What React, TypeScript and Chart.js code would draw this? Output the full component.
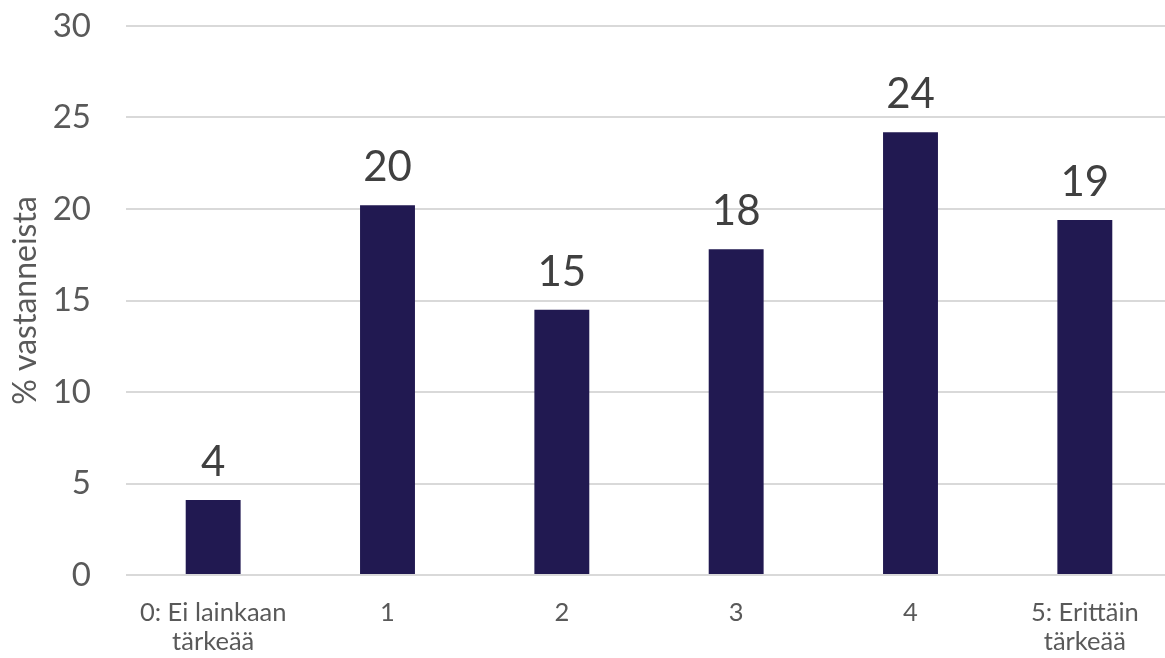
import React, { useEffect, useRef } from "react";
import { Chart, registerables } from "chart.js";

Chart.register(...registerables);

const categories: (string | string[])[] = [
  ["0: Ei lainkaan", "tärkeää"],
  "1",
  "2",
  "3",
  "4",
  ["5: Erittäin", "tärkeää"],
];
const values: number[] = [4.1, 20.2, 14.5, 17.8, 24.2, 19.4];
const yTicks: number[] = [0, 5, 10, 15, 20, 25, 30];
const yTitle = "% vastanneista";

const FONT = "Lato, 'Open Sans', sans-serif";

const dataLabelPlugin = {
  id: "dataLabels",
  afterDatasetsDraw(chart: any) {
    const ctx = chart.ctx;
    const meta = chart.getDatasetMeta(0);
    ctx.save();
    ctx.font = `42px ${FONT}`;
    ctx.fillStyle = "#404040";
    ctx.textAlign = "center";
    ctx.textBaseline = "alphabetic";
    meta.data.forEach((el: any, i: number) => {
      const v = chart.data.datasets[0].data[i] as number;
      ctx.fillText(String(Math.round(v)), el.x, el.y - 24);
    });
    ctx.restore();
  },
};

export default function App() {
  const ref = useRef<HTMLCanvasElement | null>(null);
  useEffect(() => {
    if (!ref.current) return;
    const chart = new Chart(ref.current, {
      type: "bar",
      data: {
        labels: categories,
        datasets: [
          {
            data: values,
            backgroundColor: "#211951",
            barPercentage: 0.315,
            categoryPercentage: 1,
          },
        ],
      },
      options: {
        animation: false,
        responsive: false,
        devicePixelRatio: 1,
        layout: { padding: { top: 0, right: 0, left: 0, bottom: 0 } },
        plugins: {
          legend: { display: false },
          tooltip: { enabled: false },
        },
        scales: {
          x: {
            grid: { display: false, drawTicks: false },
            border: { display: false },
            ticks: {
              color: "#595959",
              font: { family: FONT, size: 25.5, lineHeight: 1.15 },
              padding: 23,
              maxRotation: 0,
              autoSkip: false,
            },
            afterFit: (scale: any) => {
              scale.height = 83;
            },
          },
          y: {
            min: 0,
            max: 30,
            afterBuildTicks: (scale: any) => {
              scale.ticks = yTicks.map((v) => ({ value: v }));
            },
            grid: { color: "#D9D9D9", lineWidth: 2, drawTicks: false },
            border: { display: false },
            ticks: {
              color: "#595959",
              font: { family: FONT, size: 33 },
              padding: 35,
            },
            title: {
              display: true,
              text: yTitle,
              color: "#595959",
              font: { family: FONT, size: 32, lineHeight: 1.2 },
              padding: { top: 6, bottom: 0 },
            },
            afterFit: (scale: any) => {
              scale.width = 126;
              scale.paddingTop = 26;
              scale.paddingBottom = 0;
            },
          },
        },
      },
      plugins: [dataLabelPlugin],
    });
    return () => chart.destroy();
  }, []);
  return (
    <div
      style={{
        position: "fixed",
        left: 0,
        top: 0,
        width: 1165,
        height: 658,
        overflow: "hidden",
        background: "#fff",
      }}
    >
      <canvas ref={ref} width={1172} height={658} style={{ width: 1172, height: 658, display: "block" }} />
    </div>
  );
}
